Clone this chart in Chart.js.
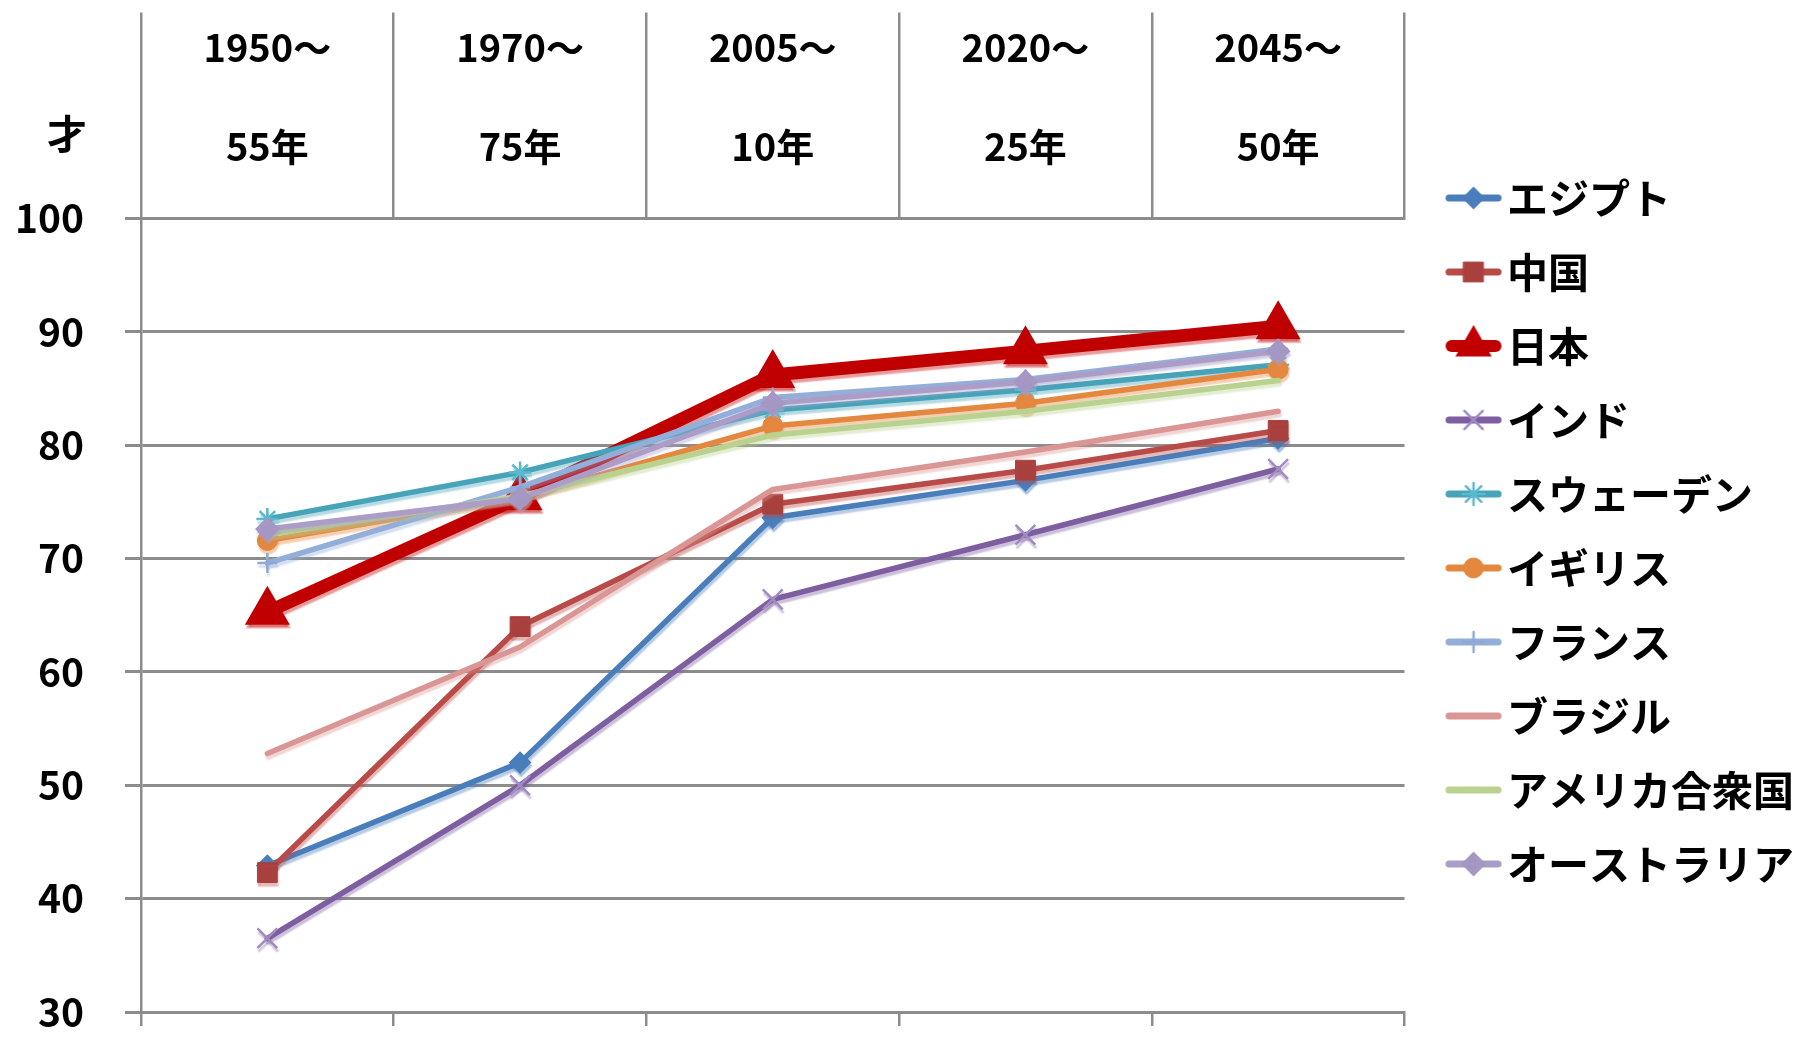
<!DOCTYPE html>
<html lang="ja">
<head>
<meta charset="utf-8">
<title>平均寿命の推移</title>
<script src="https://cdn.jsdelivr.net/npm/chart.js@4/dist/chart.umd.min.js"></script>
<style>
  html, body { margin: 0; padding: 0; background: #ffffff; }
  #wrap { width: 1804px; height: 1038px; }
</style>
</head>
<body>
<div id="wrap"><canvas id="lifeChart" width="1804" height="1038"></canvas></div>
<script>
// ---- data ----
const periodStart = ['1950～', '1970～', '2005～', '2020～', '2045～'];
const periodEnd   = ['55年', '75年', '10年', '25年', '50年'];
const countries   = ['エジプト', '中国', '日本', 'インド', 'スウェーデン', 'イギリス', 'フランス', 'ブラジル', 'アメリカ合衆国', 'オーストラリア'];

const egypt     = [42.9, 52.0, 73.6, 76.9, 80.6];
const china     = [42.3, 64.0, 74.8, 77.8, 81.3];
const japan     = [65.3, 75.4, 86.2, 88.3, 90.5];
const india     = [36.5, 50.0, 66.4, 72.1, 77.9];
const sweden    = [73.5, 77.6, 83.1, 84.9, 87.1];
const uk        = [71.6, 75.4, 81.7, 83.7, 86.7];
const france    = [69.6, 76.3, 84.2, 85.8, 88.5];
const brazil    = [52.8, 62.2, 76.1, 79.4, 83.0];
const usa       = [72.1, 75.5, 80.9, 83.0, 85.7];
const australia = [72.6, 75.3, 83.7, 85.6, 88.3];

const seriesValues = [egypt, china, japan, india, sweden, uk, france, brazil, usa, australia];

const yMin = 30, yMax = 100, yStep = 10;
const unitLabel = '才';

// ---- styling ----
const FONT = "'Noto Sans CJK JP', 'Noto Sans', sans-serif";
const GRID = '#8c8c8c';

const seriesStyles = [
  { line: '#4a7ebb', mark: '#4a7ebb', style: 'rectRot',  r: 10, bw: 2,   lw: 5.5 },
  { line: '#b84b48', mark: '#a8413e', style: 'rect',     r: 14, bw: 1,   lw: 5.5 },
  { line: '#c00000', mark: '#c00000', style: 'triangle', r: 23, bw: 3,   lw: 13 },
  { line: '#7d5fa0', mark: '#a08cc2', style: 'crossRot', r: 14, bw: 2.5, lw: 5.5 },
  { line: '#46a3b8', mark: '#5ab9cf', style: 'star',     r: 11, bw: 2.5, lw: 5.5 },
  { line: '#e3883e', mark: '#e3883e', style: 'circle',   r: 10, bw: 1,   lw: 5.5 },
  { line: '#93aed8', mark: '#8fa9d6', style: 'cross',    r: 10, bw: 2.5, lw: 5.5 },
  { line: '#d99694', mark: '#d99694', style: false,      r: 0,  bw: 0,   lw: 5.5 },
  { line: '#b9d28f', mark: '#b9d28f', style: false,      r: 0,  bw: 0,   lw: 5.5 },
  { line: '#ab9dc8', mark: '#a597c4', style: 'rectRot',  r: 11, bw: 2,   lw: 5.5 }
];

function withAlpha(hex, a) {
  const n = parseInt(hex.slice(1), 16);
  return 'rgba(' + ((n >> 16) & 255) + ',' + ((n >> 8) & 255) + ',' + (n & 255) + ',' + a + ')';
}

// legend swatch: a short line with the series marker in the middle
function makeSwatch(st, isMain) {
  const cv = document.createElement('canvas');
  cv.width = 58; cv.height = 48;
  const g = cv.getContext('2d');
  const lw = isMain ? 12 : 7;
  g.lineCap = 'round';
  g.strokeStyle = st.line;
  g.lineWidth = lw;
  g.beginPath();
  g.moveTo(lw / 2 + 1, 24);
  g.lineTo(57 - lw / 2, 24);
  g.stroke();
  if (st.style && Chart.helpers && Chart.helpers.drawPoint) {
    g.fillStyle = st.mark;
    g.strokeStyle = st.mark;
    g.lineWidth = st.bw;
    const r = isMain ? 18 : (st.style === 'crossRot' ? 13 : st.r);
    Chart.helpers.drawPoint(g, { pointStyle: st.style, radius: r, borderWidth: st.bw, rotation: 0 }, 29, 24);
  }
  return cv;
}

const datasets = seriesValues.map((vals, i) => {
  const st = seriesStyles[i];
  return {
    label: countries[i],
    data: vals,
    xAxisID: 'x',
    yAxisID: 'y',
    borderColor: st.line,
    backgroundColor: st.mark,
    borderWidth: st.lw,
    borderCapStyle: 'round',
    borderJoinStyle: 'round',
    tension: 0,
    pointStyle: st.style || 'circle',
    pointRadius: st.r,
    pointHoverRadius: st.r,
    pointBackgroundColor: st.mark,
    pointBorderColor: st.mark,
    pointBorderWidth: st.bw,
    order: -i
  };
});

const swatches = seriesStyles.map((st, i) => makeSwatch(st, i === 2));

// soft tinted shadow under each series
const lineShadow = {
  id: 'lineShadow',
  beforeDatasetDraw(chart, args) {
    const c = chart.ctx;
    c.save();
    c.shadowColor = withAlpha(seriesStyles[args.index].line, 0.4);
    c.shadowOffsetX = 1;
    c.shadowOffsetY = 3.5;
    c.shadowBlur = 1.5;
  },
  afterDatasetDraw(chart) {
    chart.ctx.restore();
  }
};

// unit label above the value axis
const unitTitle = {
  id: 'unitTitle',
  afterDraw(chart) {
    const s = chart.scales.y;
    const c = chart.ctx;
    c.save();
    c.font = 'bold 40px ' + FONT;
    c.fillStyle = '#000000';
    c.textAlign = 'right';
    c.textBaseline = 'middle';
    c.fillText(unitLabel, s.right - 16 - 38, s.top - 85);
    c.restore();
  }
};

const headerLabels = periodStart.map((a, i) => [a, periodEnd[i]]);

new Chart(document.getElementById('lifeChart'), {
  type: 'line',
  data: { labels: headerLabels.map(l => l.join('')), datasets },
  plugins: [lineShadow, unitTitle],
  options: {
    responsive: false,
    animation: false,
    devicePixelRatio: 1,
    layout: { padding: { top: 12, right: 0, bottom: -12, left: 0 } },
    plugins: {
      tooltip: { enabled: false },
      legend: {
        position: 'right',
        align: 'center',
        maxWidth: 420,
        labels: {
          usePointStyle: true,
          pointStyleWidth: 26,
          padding: 33,
          color: '#000000',
          font: { family: FONT, size: 41, weight: 'bold' },
          generateLabels(chart) {
            return chart.data.datasets.map((ds, i) => ({
              text: ds.label,
              pointStyle: swatches[i],
              fillStyle: ds.borderColor,
              strokeStyle: ds.borderColor,
              lineWidth: 0,
              hidden: false,
              datasetIndex: i,
              fontColor: '#000000'
            }));
          }
        }
      }
    },
    scales: {
      x: {
        type: 'category',
        position: 'bottom',
        offset: true,
        grid: { drawOnChartArea: false, offset: true, color: GRID, lineWidth: 2.5, tickLength: 14 },
        border: { color: GRID, width: 3 },
        ticks: { display: false },
        afterFit(s) { s.height = 29; }
      },
      xTop: {
        type: 'category',
        position: 'top',
        labels: headerLabels,
        offset: true,
        grid: { drawOnChartArea: false, offset: true, color: GRID, lineWidth: 2.5, tickLength: 206 },
        border: { color: GRID, width: 3 },
        ticks: {
          autoSkip: false,
          maxRotation: 0,
          minRotation: 0,
          padding: -184,
          color: '#000000',
          font: { family: FONT, size: 38, weight: 'bold', lineHeight: '99px' }
        },
        afterFit(s) { s.height = 206.5; s.paddingLeft = 0; s.paddingRight = 0; }
      },
      y: {
        type: 'linear',
        position: 'left',
        min: yMin,
        max: yMax,
        ticks: {
          stepSize: yStep,
          padding: 41,
          color: '#000000',
          font: { family: FONT, size: 39, weight: 'bold' }
        },
        grid: { color: GRID, lineWidth: 3, tickLength: 16 },
        border: { color: GRID, width: 2.5 },
        afterFit(s) { s.width = 141; s.paddingTop = 0; s.paddingBottom = 0; }
      },
      gap: {
        type: 'linear',
        position: 'right',
        display: true,
        grid: { display: false },
        ticks: { display: false },
        border: { display: false },
        afterFit(s) { s.width = 23; s.paddingTop = 0; s.paddingBottom = 0; }
      }
    }
  }
});
</script>
</body>
</html>
